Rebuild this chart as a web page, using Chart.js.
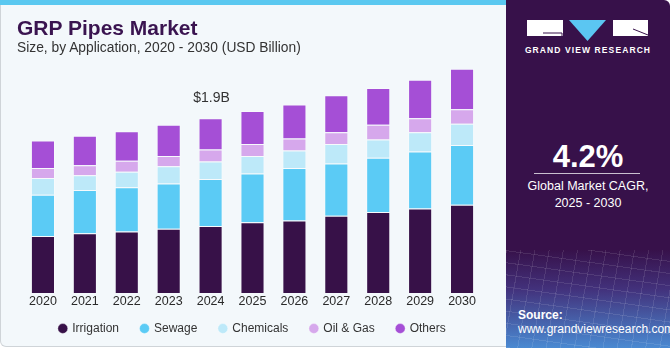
<!DOCTYPE html>
<html>
<head>
<meta charset="utf-8">
<script src="https://cdn.jsdelivr.net/npm/chart.js@4.4.1/dist/chart.umd.min.js"></script>
<style>
  html, body { margin: 0; padding: 0; background: #ffffff; }
  body { width: 670px; height: 350px; position: relative; overflow: hidden; font-family: "Liberation Sans", Arial, sans-serif; }
  #card { position: absolute; left: 0; top: 0; width: 505px; height: 346px; background: #f3f8fb; border: 1px solid #cfd4d8; border-top: none; border-radius: 0 0 0 6px; box-sizing: content-box; }
  #stripe { position: absolute; left: 0; top: 0; width: 506px; height: 5px; background: #5ac8f0; }
  #title { position: absolute; left: 17px; top: 16px; font-size: 21px; font-weight: bold; color: #3a1450; }
  #subtitle { position: absolute; left: 17px; top: 40px; font-size: 13.8px; color: #333; }
  #chartBox { position: absolute; left: 0; top: 0; width: 506px; height: 348px; }
  #panel { position: absolute; left: 506px; top: 0; width: 164px; height: 348px; background: #37114a; border-radius: 0 6px 0 0; overflow: hidden; }
  #panelGlow { position: absolute; left: 0; top: 250px; width: 164px; height: 98px;
    background:
      repeating-linear-gradient(100deg, rgba(255,255,255,0.10) 0 1px, transparent 1px 14px),
      repeating-linear-gradient(8deg, rgba(255,255,255,0.10) 0 1px, transparent 1px 12px),
      linear-gradient(180deg, rgba(55,17,74,0) 0%, rgba(70,60,140,0.75) 40%, #4a8ad2 100%); }
  #brand { position: absolute; left: 0; width: 164px; top: 45px; text-align: center; color: #fff; font-size: 8.5px; font-weight: bold; letter-spacing: 1.1px; }
  #cagr { position: absolute; left: 0; width: 164px; top: 139px; text-align: center; color: #fff; font-size: 31px; font-weight: bold; }
  #rule { position: absolute; left: 28px; width: 106px; top: 173px; height: 1px; background: #c9bfd0; }
  #cagrText { position: absolute; left: 0; width: 164px; top: 178px; text-align: center; color: #fff; font-size: 12.5px; line-height: 17px; }
  #source { position: absolute; left: 12px; top: 308px; color: #fff; font-size: 12px; line-height: 14px; }
</style>
</head>
<body>
<div id="card"></div>
<div id="stripe"></div>
<div id="chartBox"><canvas id="myChart" width="506" height="348"></canvas></div>
<div id="title">GRP Pipes Market</div>
<div id="subtitle">Size, by Application, 2020 - 2030 (USD Billion)</div>
<div id="panel">
  <div id="panelGlow"></div>
  <svg style="position:absolute;left:0;top:0" width="164" height="46">
    <rect x="21" y="20" width="36" height="16" fill="#fff"/>
    <polyline points="37,33 56,33 56,36" fill="none" stroke="#37114a" stroke-width="1"/>
    <polygon points="63,20 100,20 81.5,41" fill="#5bc6f2"/>
    <rect x="107" y="20" width="35" height="16" fill="#fff"/>
    <line x1="127" y1="29" x2="142" y2="35" stroke="#37114a" stroke-width="1"/>
  </svg>
  <div id="brand">GRAND VIEW RESEARCH</div>
  <div id="cagr">4.2%</div>
  <div id="rule"></div>
  <div id="cagrText">Global Market CAGR,<br>2025 - 2030</div>
  <div id="source"><b>Source:</b><br>www.grandviewresearch.com</div>
</div>
<script>
const years = ["2020", "2021", "2022", "2023", "2024", "2025", "2026", "2027", "2028", "2029", "2030"];
const irrigation = [0.62, 0.65, 0.67, 0.70, 0.73, 0.77, 0.79, 0.84, 0.88, 0.92, 0.96];
const sewage = [0.45, 0.47, 0.48, 0.49, 0.51, 0.53, 0.57, 0.57, 0.59, 0.62, 0.65];
const chemicals = [0.18, 0.16, 0.17, 0.19, 0.19, 0.19, 0.19, 0.21, 0.20, 0.21, 0.23];
const oilGas = [0.11, 0.11, 0.12, 0.11, 0.13, 0.13, 0.13, 0.13, 0.16, 0.15, 0.16];
const others = [0.30, 0.32, 0.32, 0.34, 0.34, 0.36, 0.37, 0.40, 0.40, 0.42, 0.44];
const labelYear = "2024";
const labelText = "$1.9B";

// étiquette au-dessus de la barre 2024
const totalLabel = {
  id: "totalLabel",
  afterDatasetsDraw(chart) {
    const idx = years.indexOf(labelYear);
    const meta = chart.getDatasetMeta(chart.data.datasets.length - 1);
    const bar = meta.data[idx];
    const ctx = chart.ctx;
    ctx.save();
    ctx.font = "14px 'Liberation Sans', Arial, sans-serif";
    ctx.fillStyle = "#333";
    ctx.textAlign = "center";
    ctx.textBaseline = "middle";
    ctx.fillText(labelText, bar.x + 1, bar.y - 20);
    ctx.restore();
  },
};

// légende plus serrée sous les années
const legendShift = {
  id: "legendShift",
  beforeLayout(chart) {
    const lg = chart.legend;
    if (lg && !lg._patched) {
      const fit = lg.fit.bind(lg);
      lg.fit = function () {
        fit();
        this.height = 38;
      };
      lg._patched = true;
    }
  },
  afterLayout(chart) {
    chart.legend.top -= 9.5;
    chart.legend.bottom -= 9.5;
  },
};

function ds(label, data, color) {
  return {
    label,
    data,
    backgroundColor: color,
    borderColor: "rgba(255,255,255,0.35)",
    borderWidth: 1,
    categoryPercentage: 1,
    barPercentage: 0.575,
  };
}

const ctx = document.getElementById("myChart").getContext("2d");
new Chart(ctx, {
  type: "bar",
  data: {
    labels: years,
    datasets: [
      ds("Irrigation", irrigation, "#371148"),
      ds("Sewage", sewage, "#5bcbf5"),
      ds("Chemicals", chemicals, "#bde9f9"),
      ds("Oil & Gas", oilGas, "#d6a8ec"),
      ds("Others", others, "#a54fd6"),
    ],
  },
  options: {
    responsive: false,
    animation: false,
    layout: { padding: { left: 22, right: 23, top: 54, bottom: 0 } },
    scales: {
      x: {
        stacked: true,
        grid: { display: false, drawTicks: false },
        border: { display: false },
        ticks: { color: "#2a2a2a", font: { size: 12.5, family: "'Liberation Sans', Arial, sans-serif" }, padding: 1 },
        afterFit: (scale) => { scale.height = 17; },
      },
      y: { stacked: true, display: false, min: 0, max: 2.6 },
    },
    plugins: {
      tooltip: { enabled: false },
      legend: {
        position: "bottom",
        labels: {
          usePointStyle: true,
          pointStyle: "circle",
          boxWidth: 7,
          boxHeight: 7,
          padding: 22,
          color: "#333",
          font: { size: 12, family: "'Liberation Sans', Arial, sans-serif" },
        },
      },
    },
  },
  plugins: [totalLabel, legendShift],
});
</script>
</body>
</html>
